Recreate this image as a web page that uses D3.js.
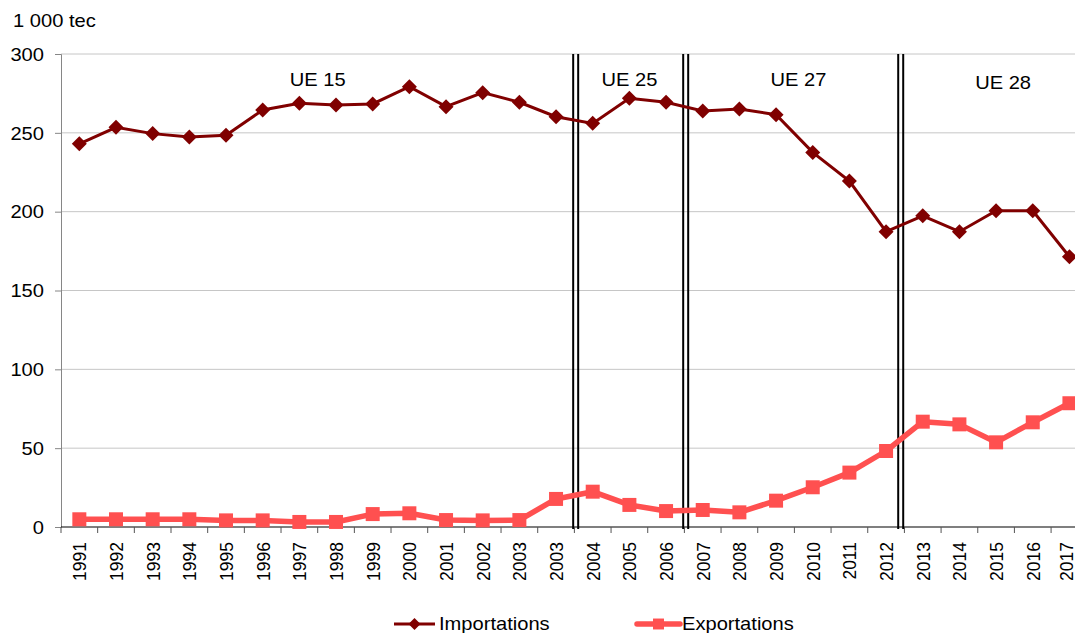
<!DOCTYPE html>
<html>
<head>
<meta charset="utf-8">
<script src="https://cdn.jsdelivr.net/npm/d3@7"></script>
<style>
  body { margin: 0; background: #fff; }
  text { font-family: "Liberation Sans", Arial, sans-serif; fill: #000; }
</style>
</head>
<body>
<div id="chart"></div>
<script>
// Categories (2003 appears twice in the source chart)
const years = ["1991", "1992", "1993", "1994", "1995", "1996", "1997", "1998", "1999", "2000",
  "2001", "2002", "2003", "2003", "2004", "2005", "2006", "2007", "2008", "2009",
  "2010", "2011", "2012", "2013", "2014", "2015", "2016", "2017"];

const importations = [243, 253.5, 249.5, 247.3, 248.4, 264.5, 268.7, 267.6, 268.3, 279.3,
  266.6, 275.5, 269.4, 260.2, 256, 271.9, 269.4, 263.8, 265.1, 261.5,
  237.6, 219.4, 187.3, 197.4, 187.3, 200.6, 200.6, 171.4];

const exportations = [4.9, 4.9, 4.9, 4.9, 4.2, 4.2, 3.2, 3.2, 8.2, 8.7,
  4.4, 4.2, 4.4, 17.8, 22.4, 14, 10.1, 10.8, 9.3, 16.7,
  25.2, 34.5, 48.2, 66.8, 65.1, 53.7, 66.4, 78.5];

const yTicks = [0, 50, 100, 150, 200, 250, 300];
const periods = ["UE 15", "UE 25", "UE 27", "UE 28"];
const periodStarts = [0, 14, 17, 23]; // first category index of each period
const unitLabel = "1 000 tec";

// Layout
const W = 1075, H = 633;
const plot = { left: 61, top: 54, bottom: 527 };
const step = 36.67;
const stretch = 1.15; // the reference text is wider than plain Arial
const fontSize = "17.5px";

const svg = d3.select("#chart").append("svg")
  .attr("width", W)
  .attr("height", H);

const x = d3.scaleBand()
  .domain(d3.range(years.length))
  .range([plot.left, plot.left + step * years.length])
  .padding(0);
const cx = i => x(i) + x.bandwidth() / 2;
const boundary = i => x.range()[0] + i * x.step();

const y = d3.scaleLinear()
  .domain([0, 300])
  .range([plot.bottom, plot.top]);

// Gridlines
svg.append("g")
  .selectAll("line")
  .data(yTicks.filter(d => d > 0))
  .join("line")
  .attr("x1", plot.left)
  .attr("x2", W)
  .attr("y1", d => y(d))
  .attr("y2", d => y(d))
  .attr("stroke", "#c6c6c6")
  .attr("stroke-width", 1);

// Y axis
const yAxis = svg.append("g")
  .attr("transform", `translate(${plot.left},0)`)
  .call(d3.axisLeft(y).tickValues(yTicks).tickSize(6).tickFormat(d3.format("d")));
yAxis.select(".domain").attr("stroke", "#868686");
yAxis.selectAll(".tick line").attr("stroke", "#868686");
yAxis.selectAll(".tick text")
  .attr("x", null)
  .attr("dy", "0.36em")
  .attr("transform", `translate(-17,0) scale(${stretch},1)`)
  .style("font-size", fontSize)
  .style("font-family", "'Liberation Sans', Arial, sans-serif")
  .attr("fill", "#000");

// X axis line + boundary ticks
svg.append("line")
  .attr("x1", plot.left)
  .attr("x2", W)
  .attr("y1", plot.bottom)
  .attr("y2", plot.bottom)
  .attr("stroke", "#000")
  .attr("stroke-width", 1.2);

svg.append("g")
  .selectAll("line")
  .data(d3.range(years.length + 1))
  .join("line")
  .attr("x1", d => boundary(d))
  .attr("x2", d => boundary(d))
  .attr("y1", plot.bottom)
  .attr("y2", plot.bottom + 6)
  .attr("stroke", "#555")
  .attr("stroke-width", 1);

// X labels, rotated (last one pulled in a little so it stays inside the frame)
svg.append("g")
  .selectAll("text")
  .data(years)
  .join("text")
  .attr("transform", (d, i) => {
    const px = Math.min(cx(i), W - 9);
    return `translate(${px},${plot.bottom + 15}) scale(1.1,1) rotate(-90)`;
  })
  .attr("text-anchor", "end")
  .attr("dy", "0.36em")
  .style("font-size", fontSize)
  .text(d => d);

// Unit label
svg.append("text")
  .attr("transform", `translate(13,27) scale(${stretch},1)`)
  .style("font-size", fontSize)
  .text(unitLabel);

// Period separators (double black lines)
const sepNudge = [0, 0, -5];
periodStarts.slice(1).forEach((p, k) => {
  [-1.2, 3.8].forEach(off => {
    const xx = boundary(p) + off + sepNudge[k];
    svg.append("line")
      .attr("x1", xx).attr("x2", xx)
      .attr("y1", plot.top)
      .attr("y2", plot.bottom + 2)
      .attr("stroke", "#000")
      .attr("stroke-width", 2);
  });
});

// Period labels, centred in each period span (last span runs past the frame)
const labelNudge = [0, 0, 4, 7];
periods.forEach((label, k) => {
  const a = periodStarts[k];
  const b = k + 1 < periodStarts.length ? periodStarts[k + 1] - 1 : years.length - 1;
  svg.append("text")
    .attr("transform", `translate(${(cx(a) + cx(b)) / 2 + labelNudge[k]},${k === 3 ? 89 : 86}) scale(${stretch},1)`)
    .attr("text-anchor", "middle")
    .style("font-size", fontSize)
    .text(label);
});

// Series
const line = d3.line().x((d, i) => cx(i)).y(d => y(d));
const diamond = "M0,-7.5L7.5,0L0,7.5L-7.5,0Z";
const square = d3.symbol(d3.symbolSquare, 196);

svg.append("path")
  .datum(exportations)
  .attr("fill", "none")
  .attr("stroke", "#ff5050")
  .attr("stroke-width", 5.5)
  .attr("stroke-linejoin", "round")
  .attr("d", line);

svg.append("g")
  .selectAll("path")
  .data(exportations)
  .join("path")
  .attr("transform", (d, i) => `translate(${cx(i)},${y(d)})`)
  .attr("d", square)
  .attr("fill", "#ff5050");

svg.append("path")
  .datum(importations)
  .attr("fill", "none")
  .attr("stroke", "#800000")
  .attr("stroke-width", 3)
  .attr("d", line);

svg.append("g")
  .selectAll("path")
  .data(importations)
  .join("path")
  .attr("transform", (d, i) => `translate(${cx(i)},${y(d)})`)
  .attr("d", diamond)
  .attr("fill", "#800000");

// Legend
const legend = svg.append("g");
legend.append("line")
  .attr("x1", 394).attr("x2", 435).attr("y1", 624).attr("y2", 624)
  .attr("stroke", "#800000").attr("stroke-width", 3);
legend.append("path")
  .attr("transform", "translate(414.5,624) scale(0.8)")
  .attr("d", diamond)
  .attr("fill", "#800000");
legend.append("text")
  .attr("transform", `translate(439,630) scale(${stretch},1)`)
  .style("font-size", fontSize)
  .text("Importations");

legend.append("line")
  .attr("x1", 637).attr("x2", 680).attr("y1", 624).attr("y2", 624)
  .attr("stroke", "#ff5050").attr("stroke-width", 5.5).attr("stroke-linecap", "round");
legend.append("path")
  .attr("transform", "translate(658.5,624)")
  .attr("d", d3.symbol(d3.symbolSquare, 120))
  .attr("fill", "#ff5050");
legend.append("text")
  .attr("transform", `translate(682,630) scale(${stretch},1)`)
  .style("font-size", fontSize)
  .text("Exportations");
</script>
</body>
</html>
